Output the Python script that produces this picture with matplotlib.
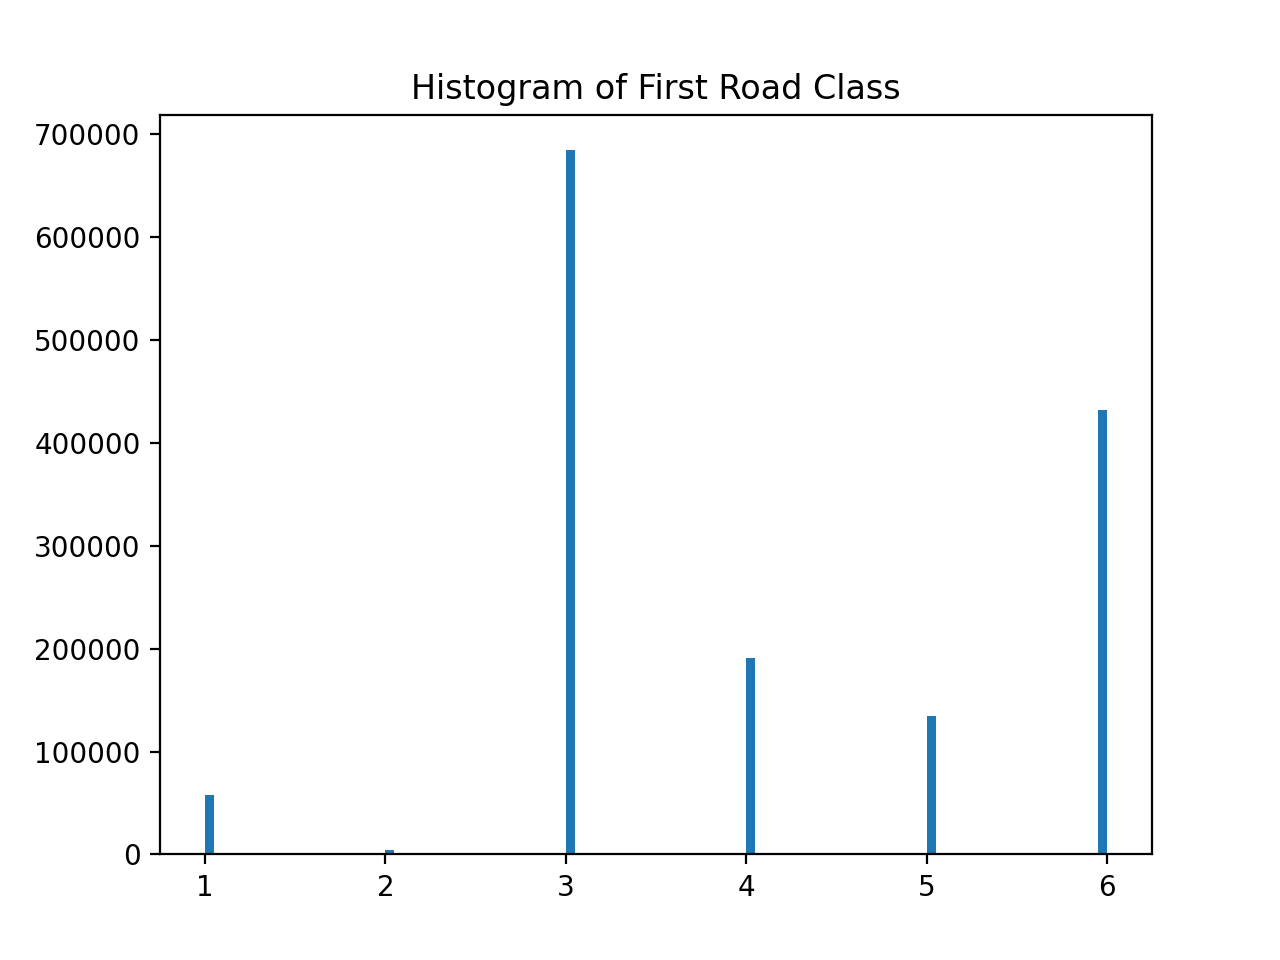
import matplotlib
matplotlib.use("Agg")
import matplotlib.pyplot as plt

road_classes = [1, 2, 3, 4, 5, 6]
counts = [57400, 4000, 684400, 190500, 134200, 431700]

fig = plt.figure(figsize=(6.4, 4.8), dpi=200)
plt.hist(road_classes, bins=100, weights=counts)
plt.title("Histogram of First Road Class")
fig.savefig("out.png", dpi=200)
